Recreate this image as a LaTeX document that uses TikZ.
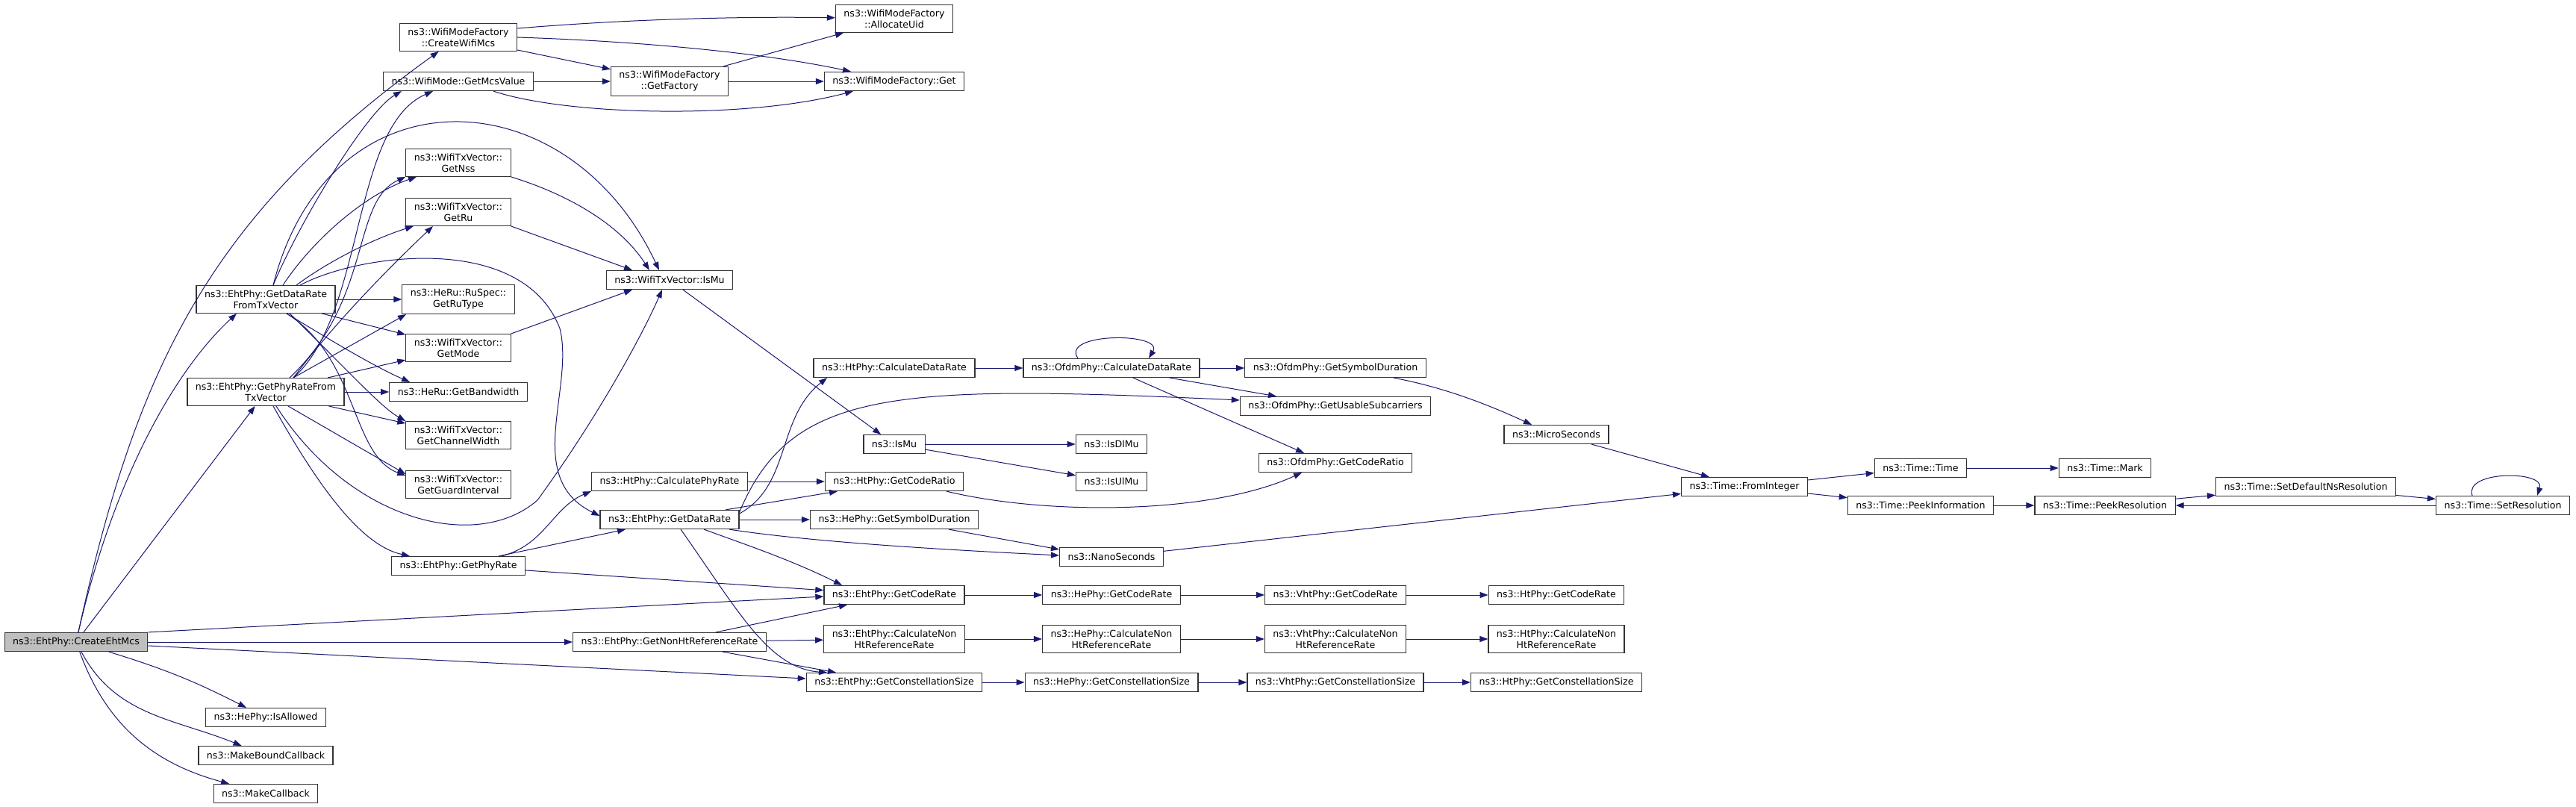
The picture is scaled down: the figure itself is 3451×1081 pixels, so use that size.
\documentclass[tikz,border=0pt]{standalone}
\usepackage{fontspec}
\setmainfont{DejaVu Sans}
\usetikzlibrary{arrows.meta}
\definecolor{edgeblue}{HTML}{191970}
\definecolor{rootgray}{HTML}{BFBFBF}
\begin{document}
\begin{tikzpicture}[x=1pt,y=-1pt,
  fn/.style={draw=black!80,fill=white,line width=1.2pt,font=\fontsize{12.6}{15}\selectfont,
    minimum height=25pt,inner xsep=11pt,inner ysep=6pt,align=center},
  root/.style={fn,fill=rootgray},
  call/.style={draw=edgeblue,line width=1pt,-{Triangle[length=11pt,width=8pt]}}]
\useasboundingbox (0,0) rectangle (3451,1081);
% column 0 and 1
\node [root] (cem) at (102,860) {ns3::EhtPhy::CreateEhtMcs};
\node [fn] (drtx) at (356,401) {ns3::EhtPhy::GetDataRate\\FromTxVector};
\node [fn] (prtx) at (356,525) {ns3::EhtPhy::GetPhyRateFrom\\TxVector};
\node [fn] (allow) at (356,961) {ns3::HePhy::IsAllowed};
\node [fn] (mbc) at (356,1012) {ns3::MakeBoundCallback};
\node [fn] (mcb) at (356,1063) {ns3::MakeCallback};
% column 2
\node [fn] (cwm) at (614,50) {ns3::WifiModeFactory\\::CreateWifiMcs};
\node [fn] (mcs) at (614,109) {ns3::WifiMode::GetMcsValue};
\node [fn] (nss) at (614,218) {ns3::WifiTxVector::\\GetNss};
\node [fn] (ru) at (614,284) {ns3::WifiTxVector::\\GetRu};
\node [fn] (rut) at (614,401) {ns3::HeRu::RuSpec::\\GetRuType};
\node [fn] (mode) at (614,466) {ns3::WifiTxVector::\\GetMode};
\node [fn] (bw) at (614,525) {ns3::HeRu::GetBandwidth};
\node [fn] (cw) at (614,583) {ns3::WifiTxVector::\\GetChannelWidth};
\node [fn] (gi) at (614,649) {ns3::WifiTxVector::\\GetGuardInterval};
\node [fn] (phyr) at (614,758) {ns3::EhtPhy::GetPhyRate};
% column 3
\node [fn] (fac) at (897,109) {ns3::WifiModeFactory\\::GetFactory};
\node [fn] (txmu) at (897,375) {ns3::WifiTxVector::IsMu};
\node [fn] (htcpr) at (897,645) {ns3::HtPhy::CalculatePhyRate};
\node [fn] (dr) at (897,696) {ns3::EhtPhy::GetDataRate};
\node [fn] (nonht) at (897,860) {ns3::EhtPhy::GetNonHtReferenceRate};
% column 4
\node [fn] (uid) at (1198,25) {ns3::WifiModeFactory\\::AllocateUid};
\node [fn] (get) at (1198,109) {ns3::WifiModeFactory::Get};
\node [fn] (htcdr) at (1198,493) {ns3::HtPhy::CalculateDataRate};
\node [fn] (ismu) at (1198,595) {ns3::IsMu};
\node [fn] (htratio) at (1198,645) {ns3::HtPhy::GetCodeRatio};
\node [fn] (hesym) at (1198,696) {ns3::HePhy::GetSymbolDuration};
\node [fn] (ehtcr) at (1198,797) {ns3::EhtPhy::GetCodeRate};
\node [fn] (ehtcnon) at (1198,856) {ns3::EhtPhy::CalculateNon\\HtReferenceRate};
\node [fn] (ehtcs) at (1198,914) {ns3::EhtPhy::GetConstellationSize};
% column 5
\node [fn] (ofcdr) at (1489,493) {ns3::OfdmPhy::CalculateDataRate};
\node [fn] (dlmu) at (1489,595) {ns3::IsDlMu};
\node [fn] (ulmu) at (1489,645) {ns3::IsUlMu};
\node [fn] (nano) at (1489,746) {ns3::NanoSeconds};
\node [fn] (hecr) at (1489,797) {ns3::HePhy::GetCodeRate};
\node [fn] (hecnon) at (1489,856) {ns3::HePhy::CalculateNon\\HtReferenceRate};
\node [fn] (hecs) at (1489,914) {ns3::HePhy::GetConstellationSize};
% column 6 and 7
\node [fn] (ofsym) at (1789,493) {ns3::OfdmPhy::GetSymbolDuration};
\node [fn] (ofsub) at (1789,544) {ns3::OfdmPhy::GetUsableSubcarriers};
\node [fn] (ofratio) at (1789,620) {ns3::OfdmPhy::GetCodeRatio};
\node [fn] (vhtcr) at (1789,797) {ns3::VhtPhy::GetCodeRate};
\node [fn] (vhtcnon) at (1789,856) {ns3::VhtPhy::CalculateNon\\HtReferenceRate};
\node [fn] (vhtcs) at (1789,914) {ns3::VhtPhy::GetConstellationSize};
\node [fn] (micro) at (2085,582) {ns3::MicroSeconds};
\node [fn] (htcr) at (2085,797) {ns3::HtPhy::GetCodeRate};
\node [fn] (htcnon) at (2085,856) {ns3::HtPhy::CalculateNon\\HtReferenceRate};
\node [fn] (htcs) at (2085,914) {ns3::HtPhy::GetConstellationSize};
% Time
\node [fn] (fromint) at (2337,652) {ns3::Time::FromInteger};
\node [fn] (ttime) at (2573,627) {ns3::Time::Time};
\node [fn] (peekinfo) at (2573,677) {ns3::Time::PeekInformation};
\node [fn] (mark) at (2820,627) {ns3::Time::Mark};
\node [fn] (peekres) at (2820,677) {ns3::Time::PeekResolution};
\node [fn] (setdef) at (3089,652) {ns3::Time::SetDefaultNsResolution};
\node [fn] (setres) at (3353,677) {ns3::Time::SetResolution};

% calls of CreateEhtMcs
\draw [call] (cem) .. controls (182,497) and (277,292) .. (cwm);
\draw [call] (cem) .. controls (150,650) and (230,500) .. ([xshift=-39]drtx.south);
\draw [call] (cem) -- (prtx);
\draw [call] (cem) to[bend left=5] (allow);
\draw [call] (cem) to[out=-62,in=158] (mbc);
\draw [call] (cem) to[out=-70,in=165] (mcb);
\draw [call] (cem.north east) -- ([yshift=-2]ehtcr.west);
\draw [call] (cem) -- (nonht);
\draw [call] ([yshift=-5]cem.east) -- ([yshift=5]ehtcs.west);
% calls of GetDataRateFromTxVector
\draw [call] ([xshift=10]drtx.north) .. controls (400,300) and (490,150) .. ([xshift=25]mcs.south west);
\draw [call] ([xshift=23]drtx.north) .. controls (420,320) and (490,260) .. (nss);
\draw [call] ([xshift=41]drtx.north) .. controls (440,350) and (500,320) .. (ru);
\draw [call] ([xshift=10]drtx.north) .. controls (440,90) and (760,100) .. ([xshift=-14]txmu.north);
\draw [call] ([xshift=46]drtx.north) .. controls (480,340) and (700,310) .. (750,440)
  .. controls (770,520) and (700,640) .. ([yshift=5]dr.west);
\draw [call] (drtx) -- (rut);
\draw [call] (drtx) -- (mode);
\draw [call] ([xshift=28]drtx.south) .. controls (450,460) and (500,490) .. ([xshift=-65]bw.north);
\draw [call] ([xshift=32]drtx.south) .. controls (470,500) and (510,545) .. (cw.north west);
\draw [call] ([xshift=28]drtx.south) .. controls (480,480) and (470,610) .. ([yshift=12]gi.west);
% calls of GetPhyRateFromTxVector
\draw [call] ([xshift=37]prtx.north) .. controls (490,420) and (470,170) .. ([xshift=-34]mcs.south);
\draw [call] ([xshift=32]prtx.north) .. controls (500,400) and (470,270) .. (nss.south west);
\draw [call] ([xshift=37]prtx.north) .. controls (450,430) and (530,350) .. ([xshift=-34]ru.south);
\draw [call] ([xshift=37]prtx.north) -- ([xshift=-70]rut.south);
\draw [call] (prtx) -- (mode);
\draw [call] (prtx) -- (bw);
\draw [call] (prtx) -- (cw);
\draw [call] ([xshift=30]prtx.south) -- ([yshift=14]gi.west);
\draw [call] ([xshift=10]prtx.south) .. controls (420,640) and (480,730) .. ([xshift=-65]phyr.north);
\draw [call] ([xshift=14]prtx.south) .. controls (470,700) and (640,740) .. (720,670)
  .. controls (800,560) and (860,450) .. ([xshift=-10]txmu.south);
% WifiTxVector and WifiMode
\draw [call] (nss.south east) .. controls (760,260) and (830,300) .. ([xshift=-27]txmu.north);
\draw [call] (ru.south east) -- ([xshift=-50]txmu.north);
\draw [call] (mode.north east) -- ([xshift=-50]txmu.south);
\draw [call] (txmu) -- (ismu);
\draw [call] (mcs) -- (fac);
\draw [call] ([xshift=47]mcs.south) .. controls (760,155) and (1000,160) .. ([xshift=-55]get.south);
\draw [call] ([yshift=12]cwm.east) .. controls (850,25) and (1000,22) .. (uid);
\draw [call] (cwm.east) .. controls (850,55) and (1020,70) .. ([xshift=-58]get.north);
\draw [call] ([yshift=-17]cwm.east) -- (fac);
\draw [call] (fac) -- (uid);
\draw [call] (fac) -- (get);
% calls of EhtPhy::GetDataRate and GetPhyRate
\draw [call] ([yshift=8]dr.east) .. controls (1060,650) and (1040,560) .. ([xshift=-90]htcdr.south);
\draw [call] ([yshift=10]dr.east) .. controls (1060,520) and (1200,515) .. ([yshift=8]ofsub.west);
\draw [call] ([xshift=75]dr.north) -- ([xshift=-76]htratio.south);
\draw [call] (dr) -- (hesym);
\draw [call] ([xshift=80]dr.south) .. controls (1100,728) and (1300,738) .. ([yshift=2]nano.west);
\draw [call] ([xshift=46]dr.south) .. controls (1000,730) and (1060,750) .. ([xshift=-70]ehtcr.north);
\draw [call] ([xshift=15]dr.south) .. controls (990,820) and (1030,895) .. ([xshift=-90]ehtcs.north);
\draw [call] ([xshift=58]phyr.north) .. controls (730,730) and (740,680) .. (htcpr.south west);
\draw [call] ([xshift=54]phyr.north) -- ([xshift=-59]dr.south);
\draw [call] (phyr) -- (ehtcr);
\draw [call] (htcpr) -- (htratio);
\draw [call] ([xshift=73]hesym.south) -- ([yshift=10]nano.west);
% calls of GetNonHtReferenceRate
\draw [call] ([xshift=62]nonht.north) -- ([xshift=-63]ehtcr.south);
\draw [call] (nonht) -- (ehtcnon);
\draw [call] ([xshift=71]nonht.south) -- ([xshift=-78]ehtcs.north);
% chains
\draw [call] (ehtcr) -- (hecr);
\draw [call] (hecr) -- (vhtcr);
\draw [call] (vhtcr) -- (htcr);
\draw [call] (ehtcnon) -- (hecnon);
\draw [call] (hecnon) -- (vhtcnon);
\draw [call] (vhtcnon) -- (htcnon);
\draw [call] (ehtcs) -- (hecs);
\draw [call] (hecs) -- (vhtcs);
\draw [call] (vhtcs) -- (htcs);
% OfdmPhy
\draw [call] (htcdr) -- (ofcdr);
\draw [call] ([xshift=-45]ofcdr.north) .. controls (1420,445) and (1560,445) .. ([xshift=50]ofcdr.north);
\draw [call] (ofcdr) -- (ofsym);
\draw [call] ([xshift=78]ofcdr.south) -- ([xshift=-79]ofsub.north);
\draw [call] ([xshift=29]ofcdr.south) -- ([xshift=-42]ofratio.north);
\draw [call] ([xshift=78]ofsym.south) .. controls (1940,520) and (2000,545) .. ([xshift=-33]micro.north);
\draw [call] ([xshift=70]htratio.south) .. controls (1400,690) and (1620,690) .. ([xshift=-45]ofratio.south);
\draw [call] (ismu) -- (dlmu);
\draw [call] (ismu) -- (ulmu);
% Time
\draw [call] (nano) -- (fromint);
\draw [call] (micro) -- (fromint);
\draw [call] (fromint) -- (ttime);
\draw [call] (fromint) -- (peekinfo);
\draw [call] (ttime) -- (mark);
\draw [call] (peekinfo) -- (peekres);
\draw [call] (peekres) -- (setdef);
\draw [call] (setdef) -- (setres);
\draw [call] (setres) -- (peekres);
\draw [call] ([xshift=-41]setres.north) .. controls (3300,630) and (3410,630) .. ([xshift=46]setres.north);
\end{tikzpicture}
\end{document}
